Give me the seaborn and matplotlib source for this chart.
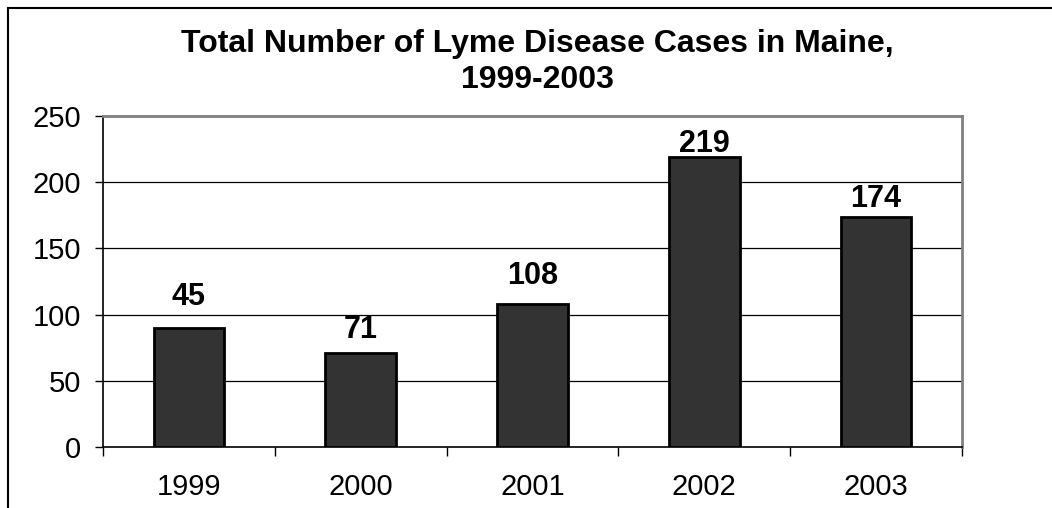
import numpy as np
import pandas as pd
import matplotlib
matplotlib.use("Agg")
import matplotlib.pyplot as plt
import seaborn as sns
from matplotlib.patches import Rectangle

# Chart data
years = ["1999", "2000", "2001", "2002", "2003"]
bar_heights = [90, 71, 108, 219, 174]
bar_labels = ["45", "71", "108", "219", "174"]
y_ticks = [0, 50, 100, 150, 200, 250]

data = pd.DataFrame({"year": years, "cases": bar_heights})

sns.set_style("white")
plt.rcParams["font.family"] = ["Liberation Sans", "DejaVu Sans"]
plt.rcParams["text.color"] = "black"
plt.rcParams["xtick.color"] = "black"
plt.rcParams["ytick.color"] = "black"
plt.rcParams["axes.labelcolor"] = "black"

fig = plt.figure(figsize=(10.52, 5.08), dpi=100)
ax = fig.add_axes([103 / 1052, 61 / 508, 859 / 1052, 331 / 508])

sns.barplot(data=data, x="year", y="cases", ax=ax, color="#333333",
            saturation=1, width=0.41, edgecolor="black", linewidth=2, zorder=3)

# value labels above bars (gap above each bar, in pixels, as in the original)
label_gap = [23, 15, 20, 5, 10]
for i, (h, lab) in enumerate(zip(bar_heights, bar_labels)):
    ax.annotate(lab, (i, h), xytext=(0, label_gap[i]), textcoords="offset pixels",
                ha="center", va="baseline", fontsize=22, fontweight="bold",
                color="black")

ax.set_xlim(-0.5, len(years) - 0.5)
ax.set_ylim(0, 250)
ax.set_yticks(y_ticks)
ax.set_xlabel("")
ax.set_ylabel("")

# gridlines
for t in y_ticks[1:-1]:
    ax.axhline(t, color="black", lw=0.9, zorder=1)

# spines
for s in ["left", "bottom"]:
    ax.spines[s].set_color("black")
    ax.spines[s].set_linewidth(1.2)
for s in ["top", "right"]:
    ax.spines[s].set_color("#808080")
    ax.spines[s].set_linewidth(2)

# ticks: y outward, x marks between categories
ax.tick_params(axis="y", which="major", length=6, width=1, direction="out",
               left=True, pad=10, labelsize=21, colors="black")
ax.set_xticks(np.arange(-0.5, len(years)), minor=True)
ax.tick_params(axis="x", which="minor", length=6.5, width=1, direction="out",
               bottom=True, colors="black")
ax.tick_params(axis="x", which="major", length=0, pad=19, labelsize=21, colors="black")

fig.text(0.511, 1 - 62 / 508, "Total Number of Lyme Disease Cases in Maine,\n1999-2003",
         ha="center", va="center", fontsize=23, fontweight="bold", linespacing=1.25,
         color="black")

# outer chart frame (only left and top visible)
fig.patches.append(Rectangle((8 / 1052, -0.2), 1.5, 1.2 - 8 / 508,
                             transform=fig.transFigure, fill=False,
                             edgecolor="black", lw=1.5))

fig.savefig("out.png", dpi=100)
